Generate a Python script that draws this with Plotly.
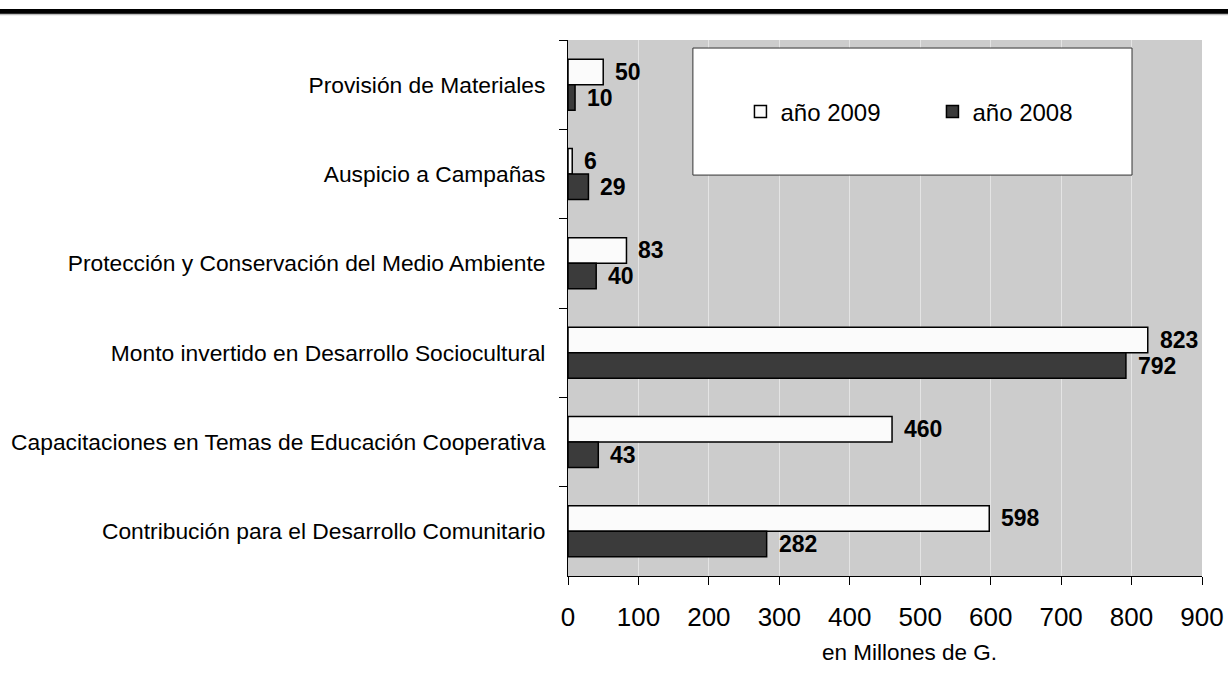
import plotly.graph_objects as go

categories = [
    "Provisión de Materiales",
    "Auspicio a Campañas",
    "Protección y Conservación del Medio Ambiente",
    "Monto invertido en Desarrollo Sociocultural",
    "Capacitaciones en Temas de Educación Cooperativa",
    "Contribución para el Desarrollo Comunitario",
]
values_2009 = [50, 6, 83, 823, 460, 598]
values_2008 = [10, 29, 40, 792, 43, 282]
series_names = ["año 2009", "año 2008"]
x_ticks = [0, 100, 200, 300, 400, 500, 600, 700, 800, 900]
x_title = "en Millones de G."

FONT = "Liberation Sans, Arial, sans-serif"

fig = go.Figure()
fig.add_trace(go.Bar(
    y=categories, x=values_2009, orientation="h", name=series_names[0],
    marker=dict(color="#fbfbfb", line=dict(color="#000000", width=1.5)),
))
fig.add_trace(go.Bar(
    y=categories, x=values_2008, orientation="h", name=series_names[1],
    marker=dict(color="#3b3b3b", line=dict(color="#000000", width=1.5)),
))

annotations = []
for cat, v in zip(categories, values_2009):
    annotations.append(dict(x=v, y=cat, xref="x", yref="y", text=f"<b>{v}</b>",
                            showarrow=False, xanchor="left", yanchor="middle",
                            xshift=10, yshift=13,
                            font=dict(family=FONT, size=23, color="#000000")))
for cat, v in zip(categories, values_2008):
    annotations.append(dict(x=v, y=cat, xref="x", yref="y", text=f"<b>{v}</b>",
                            showarrow=False, xanchor="left", yanchor="middle",
                            xshift=10, yshift=-13,
                            font=dict(family=FONT, size=23, color="#000000")))
annotations.append(dict(x=0.538, y=-0.142, xref="paper", yref="paper", text=x_title,
                        showarrow=False, xanchor="center", yanchor="middle",
                        font=dict(family=FONT, size=22.5, color="#000000")))

shapes = [
    # top black band
    dict(type="rect", xref="paper", yref="paper", x0=-0.9, x1=1.05, y0=1.0485, y1=1.0578,
         fillcolor="#000000", line=dict(width=0), layer="above"),
    dict(type="line", xref="paper", yref="paper", x0=-0.9, x1=1.05, y0=1.0475, y1=1.0475,
         line=dict(color="#bdbdbd", width=1.5), layer="above"),
    # legend box
    dict(type="rect", xref="paper", yref="paper", x0=0.197, x1=0.8896, y0=0.748, y1=0.985,
         fillcolor="#ffffff", line=dict(color="#333333", width=1), layer="above"),
]

fig.update_layout(
    width=1228, height=693,
    margin=dict(l=568, r=26, t=40, b=117, autoexpand=False),
    paper_bgcolor="#ffffff", plot_bgcolor="#cccccc",
    barmode="group", bargap=0.43, bargroupgap=0,
    font=dict(family=FONT, color="#000000"),
    showlegend=True,
    legend=dict(orientation="h", x=0.272, y=0.866, xanchor="left", yanchor="middle",
                bgcolor="rgba(0,0,0,0)", borderwidth=0, itemwidth=30,
                font=dict(family=FONT, size=24, color="#000000"),
                entrywidth=147, entrywidthmode="pixels", traceorder="normal"),
    annotations=annotations,
    shapes=shapes,
)
fig.update_xaxes(
    range=[0, 900], tickvals=x_ticks, ticktext=[str(t) for t in x_ticks],
    showgrid=True, gridcolor="#e4e4e4", gridwidth=1, zeroline=False,
    showline=True, linecolor="#000000", linewidth=1,
    ticks="outside", ticklen=8, tickcolor="#000000", tickwidth=1,
    tickfont=dict(family=FONT, size=26, color="#000000"),
    ticklabelstandoff=10, automargin=False, fixedrange=True,
)
fig.update_yaxes(
    type="category", categoryorder="array", categoryarray=categories,
    autorange="reversed", range=[5.5, -0.5],
    showgrid=False, zeroline=False,
    showline=True, linecolor="#000000", linewidth=1,
    ticks="outside", ticklen=8, tickcolor="#000000", tickwidth=1, tickson="boundaries",
    tickfont=dict(family=FONT, size=22.8, color="#000000"),
    ticklabelstandoff=17, automargin=False, fixedrange=True,
)

fig.write_html("out.html", config={"displayModeBar": False},
               post_script="document.body.style.margin='0';document.body.style.overflow='hidden';")
